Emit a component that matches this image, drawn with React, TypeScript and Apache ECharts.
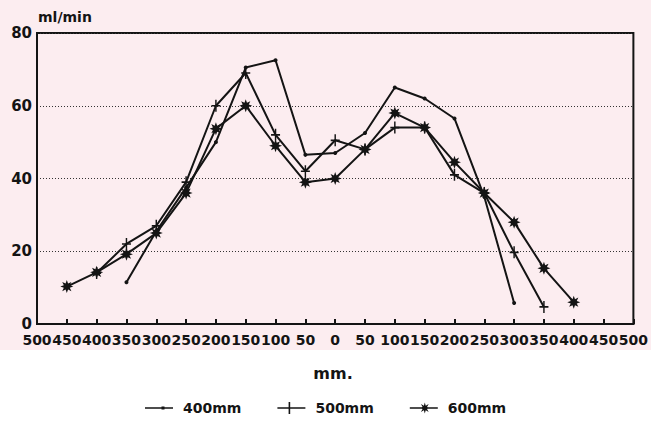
import React, { useEffect, useRef } from "react";
import * as echarts from "echarts";

const categories = ["500", "450", "400", "350", "300", "250", "200", "150", "100", "50", "0", "50", "100", "150", "200", "250", "300", "350", "400", "450", "500"];
const yTicks = [0, 20, 40, 60, 80];
const s400 = [null, null, null, 11.5, 25.5, 37.5, 50, 70.5, 72.5, 46.5, 47, 52.5, 65, 62, 56.5, 35, 5.8, null, null, null, null];
const s500 = [null, null, 14, 22, 27, 39, 60, 69, 52, 42, 50.5, 48, 54, 54, 41, 36, 19.7, 4.7, null, null, null];
const s600 = [null, 10.3, 14.2, 19.2, 25, 36, 53.7, 60, 49, 39, 40, 48, 58, 54, 44.5, 36, 28, 15.3, 6, null, null];
const seriesNames = ["400mm", "500mm", "600mm"];
const yUnit = "ml/min";
const xUnit = "mm.";

function starPoints(cx: number, cy: number, ro: number, ri: number): string {
  const pts: string[] = [];
  for (let k = 0; k < 16; k++) {
    const a = (k * Math.PI) / 8 - Math.PI / 2;
    const r = k % 2 === 0 ? ro : ri;
    pts.push((k === 0 ? "M" : "L") + (cx + r * Math.cos(a)).toFixed(2) + "," + (cy + r * Math.sin(a)).toFixed(2));
  }
  return pts.join("") + "Z";
}

const starSymbol = "path://" + starPoints(5, 5, 5, 2.5);
const plusSymbol = "path://M0,4.3H10V5.7H0Z M4.2,0H5.8V10H4.2Z";
const legendIcons = [
  "path://M0,5.2H28V6.8H0Z M16.5,4.5H19.5V7.5H16.5Z",
  "path://M0,5.2H28V6.8H0Z M11.2,0H12.8V12H11.2Z",
  "path://M0,5.2H28V6.8H0Z " + starPoints(15, 6, 5.5, 2.4),
];

export default function App() {
  const ref = useRef<HTMLDivElement>(null);
  useEffect(() => {
    if (!ref.current) return;
    const chart = echarts.init(ref.current, null, { renderer: "svg" });
    const font = "'DejaVu Sans', 'Liberation Sans', Arial, sans-serif";
    const black = "#141414";
    const lineStyle = { color: black, width: 2 };
    const datasets = [s400, s500, s600];
    const symbols = ["circle", plusSymbol, starSymbol];
    const sizes: any[] = [4, [9, 12], 13];
    chart.setOption({
      animation: false,
      backgroundColor: "#ffffff",
      textStyle: { fontFamily: font },
      graphic: [
        { type: "rect", z: -10, shape: { x: 0, y: 0, width: 651, height: 350 }, style: { fill: "#fcedf0" }, silent: true },
        { type: "text", left: 38, top: 10, style: { text: yUnit, font: "bold 14px " + font, fill: black } },
        { type: "text", x: 333, y: 373, style: { text: xUnit, font: "bold 16px " + font, fill: black, textAlign: "center", textVerticalAlign: "middle" } },
      ],
      grid: { left: 37, right: 17, top: 33, bottom: 99, show: true, borderColor: black, borderWidth: 2, backgroundColor: "transparent" },
      legend: {
        top: 396,
        left: 140,
        itemWidth: 28,
        itemHeight: 12,
        itemGap: 36,
        textStyle: { fontFamily: font, fontSize: 14, fontWeight: "bold", color: black, padding: [0, 0, 0, 5] },
        data: seriesNames.map((n, i) => ({ name: n, icon: legendIcons[i] })),
      },
      xAxis: {
        type: "category",
        data: categories,
        boundaryGap: false,
        axisLine: { lineStyle: { color: black, width: 2 } },
        axisTick: { show: true, inside: true, length: 5, lineStyle: { color: black, width: 2 } },
        axisLabel: { interval: 0, margin: 9, fontFamily: font, fontSize: 14, fontWeight: "bold", color: black },
        splitLine: { show: false },
      },
      yAxis: {
        type: "value",
        min: yTicks[0],
        max: yTicks[yTicks.length - 1],
        interval: 20,
        axisLine: { show: true, lineStyle: { color: black, width: 2 } },
        axisTick: { show: false },
        axisLabel: { margin: 5, fontFamily: font, fontSize: 15, fontWeight: "bold", color: black },
        splitLine: { show: true, lineStyle: { color: "#333", width: 1, type: [1, 2] } },
      },
      series: datasets.map((d, i) => ({
        name: seriesNames[i],
        type: "line",
        data: d,
        connectNulls: false,
        symbol: symbols[i],
        symbolSize: sizes[i],
        showSymbol: true,
        lineStyle,
        itemStyle: { color: black, borderWidth: 0 },
      })),
    });
    return () => chart.dispose();
  }, []);
  return <div ref={ref} style={{ position: "fixed", left: 0, top: 0, width: 651, height: 423 }} />;
}
